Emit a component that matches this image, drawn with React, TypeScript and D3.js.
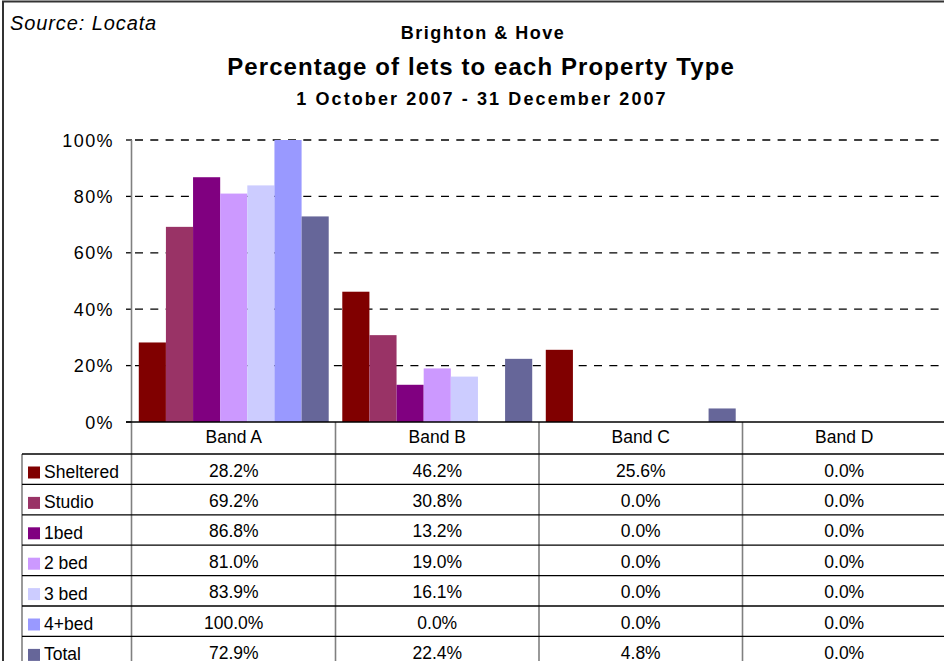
import React from "react";
import * as d3 from "d3";

const categories = ["Band A", "Band B", "Band C", "Band D"];
const seriesNames = ["Sheltered", "Studio", "1bed", "2 bed", "3 bed", "4+bed", "Total"];
const sheltered = [28.2, 46.2, 25.6, 0.0];
const studio = [69.2, 30.8, 0.0, 0.0];
const bed1 = [86.8, 13.2, 0.0, 0.0];
const bed2 = [81.0, 19.0, 0.0, 0.0];
const bed3 = [83.9, 16.1, 0.0, 0.0];
const bed4 = [100.0, 0.0, 0.0, 0.0];
const total = [72.9, 22.4, 4.8, 0.0];
const seriesColors = ["#800000", "#993366", "#800080", "#CC99FF", "#CCCCFF", "#9999FF", "#666699"];
const yTicks = [0, 20, 40, 60, 80, 100];

const seriesValues = [sheltered, studio, bed1, bed2, bed3, bed4, total];

const W = 944;
const H = 661;
const FONT = "'Liberation Sans', Arial, Helvetica, sans-serif";

export default function App() {
  const plotLeft = 132;
  const plotRight = 946;
  const plotTop = 140;
  const plotBottom = 422;

  const x0 = d3.scaleBand<string>().domain(categories).range([plotLeft, plotRight]).paddingInner(0).paddingOuter(0);
  const x1 = d3.scaleBand<string>().domain(seriesNames).range([0, x0.bandwidth()]).paddingInner(0).paddingOuter(0.25);
  const y = d3.scaleLinear().domain([0, 100]).range([plotBottom, plotTop]);

  const headerTop = plotBottom;
  const headerBottom = 454;
  const rowH = 30.4;
  const rowY = d3.scaleBand<string>().domain(seriesNames).range([headerBottom, headerBottom + rowH * seriesNames.length]);

  const tableLeft = 22;
  const tableBottom = H + 10;

  return (
    <svg width={W} height={H} style={{ position: "absolute", left: 0, top: 0, background: "#fff" }} fontFamily={FONT}>
      <rect x={0} y={0} width={W} height={H} fill="#fff" />
      {/* outer border */}
      <line x1={3} y1={1} x2={3} y2={H} stroke="#333" strokeWidth={2} />
      <line x1={2} y1={1.5} x2={W} y2={1.5} stroke="#333" strokeWidth={2} />

      {/* titles */}
      <text x={10} y={30} fontSize={20} fontStyle="italic" letterSpacing={0.9} fill="#000">Source: Locata</text>
      <text x={483} y={39} fontSize={18} fontWeight="bold" textAnchor="middle" letterSpacing={1.5} fill="#000">Brighton &amp; Hove</text>
      <text x={481} y={75} fontSize={24} fontWeight="bold" textAnchor="middle" letterSpacing={1.1} fill="#000">Percentage of lets to each Property Type</text>
      <text x={482} y={105} fontSize={18} fontWeight="bold" textAnchor="middle" letterSpacing={2.1} fill="#000">1 October 2007 - 31 December 2007</text>

      {/* gridlines */}
      {yTicks.filter((t) => t > 0).map((t) => (
        <line key={"g" + t} x1={plotLeft + 3} x2={plotRight} y1={y(t)} y2={y(t)} stroke="#000" strokeWidth={1.3} strokeDasharray="8,7.3" />
      ))}
      {/* y ticks */}
      {yTicks.map((t) => (
        <g key={"t" + t}>
          <line x1={126} x2={plotLeft} y1={y(t)} y2={y(t)} stroke="#000" strokeWidth={1.3} />
          <text x={114} y={y(t) + 6.5} fontSize={18} textAnchor="end" letterSpacing={1.4} fill="#000">{t}%</text>
        </g>
      ))}

      {/* bars */}
      {categories.map((c, ci) => (
        <g key={c}>
          {seriesNames.map((s, si) => {
            const v = seriesValues[si][ci];
            if (v <= 0) return null;
            return (
              <rect key={s} x={(x0(c) as number) + (x1(s) as number)} y={y(v)} width={x1.bandwidth()} height={y(0) - y(v)} fill={seriesColors[si]} />
            );
          })}
        </g>
      ))}

      {/* table vertical lines */}
      <line x1={plotLeft - 0.5} x2={plotLeft - 0.5} y1={plotTop} y2={tableBottom} stroke="#808080" strokeWidth={1.6} />
      {categories.slice(1).map((c) => (
        <line key={"v" + c} x1={x0(c) as number} x2={x0(c) as number} y1={headerTop} y2={tableBottom} stroke="#808080" strokeWidth={1.6} />
      ))}
      <line x1={tableLeft} x2={tableLeft} y1={headerBottom} y2={tableBottom} stroke="#808080" strokeWidth={1.6} />

      {/* baseline */}
      <line x1={126} x2={plotRight} y1={plotBottom} y2={plotBottom} stroke="#000" strokeWidth={1.3} />
      {/* header row */}
      {categories.map((c) => (
        <text key={"h" + c} x={(x0(c) as number) + x0.bandwidth() / 2} y={headerTop + 21} fontSize={17.5} textAnchor="middle" fill="#000">{c}</text>
      ))}
      <line x1={tableLeft} x2={plotRight} y1={headerBottom} y2={headerBottom} stroke="#000" strokeWidth={1.3} />

      {/* rows */}
      {seriesNames.map((s, si) => {
        const top = rowY(s) as number;
        return (
          <g key={"r" + s}>
            <rect x={28} y={top + 12.5} width={12} height={12} fill={seriesColors[si]} />
            <text x={44} y={top + 24} fontSize={17.5} fill="#000">{s}</text>
            {categories.map((c, ci) => (
              <text key={c} x={(x0(c) as number) + x0.bandwidth() / 2} y={top + 22.5} fontSize={17.5} textAnchor="middle" fill="#000">
                {seriesValues[si][ci].toFixed(1) + "%"}
              </text>
            ))}
            <line x1={tableLeft} x2={plotRight} y1={top + rowH} y2={top + rowH} stroke="#000" strokeWidth={1.3} />
          </g>
        );
      })}
    </svg>
  );
}
